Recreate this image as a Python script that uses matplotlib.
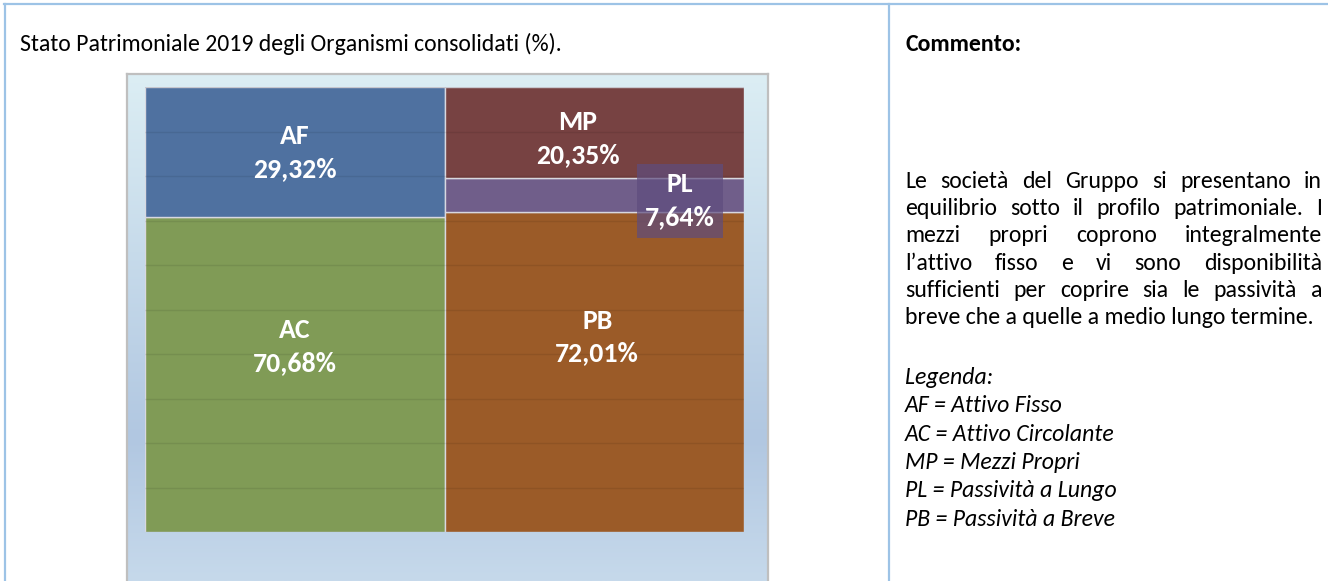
import numpy as np
import matplotlib
matplotlib.use('Agg')
import matplotlib.pyplot as plt
from matplotlib import font_manager
from matplotlib.colors import LinearSegmentedColormap
from matplotlib.lines import Line2D

# --- dati ---
colonne = [0, 1]
sigle_attivo = ['AC', 'AF']
valori_attivo = [70.68, 29.32]
sigle_passivo = ['PB', 'PL', 'MP']
valori_passivo = [72.01, 7.64, 20.35]

titolo = 'Stato Patrimoniale 2019 degli Organismi consolidati (%).'
intestazione = 'Commento:'
commento = [
    'Le società del Gruppo si presentano in',
    'equilibrio sotto il profilo patrimoniale. I',
    'mezzi propri coprono integralmente',
    'l’attivo fisso e vi sono disponibilità',
    'sufficienti per coprire sia le passività a',
    'breve che a quelle a medio lungo termine.',
]
legenda = [
    'Legenda:',
    'AF = Attivo Fisso',
    'AC = Attivo Circolante',
    'MP = Mezzi Propri',
    'PL = Passività a Lungo',
    'PB = Passività a Breve',
]

# --- stile ---
colori = {'AC': '#809B56', 'AF': '#4F71A0', 'PB': '#9B5B28',
          'PL': '#705E8A', 'MP': '#774242'}
# spostamento etichette (dx in larghezze barra, dy in punti %)
spost = {'AF': (0, 0), 'AC': (0, 6.3), 'MP': (-0.055, -1.4),
         'PL': (0.286, -1.4), 'PB': (0.01, 7.8)}

disponibili = {f.name for f in font_manager.fontManager.ttflist}
font = next(f for f in ['Carlito', 'Lato', 'Open Sans', 'DejaVu Sans'] if f in disponibili)

W, H = 1328, 581
fig = plt.figure(figsize=(W / 100, H / 100), dpi=100)
fig.patch.set_facecolor('white')


def fpos(x, y):
    return x / W, 1 - y / H


# bordi della tabella
bordo = '#9DC3E6'
for xs, ys in [([4, W], [4, 4]), ([5, 5], [4, H]), ([889, 889], [4, H])]:
    fig.add_artist(Line2D([x / W for x in xs], [1 - y / H for y in ys],
                          transform=fig.transFigure, color=bordo, lw=1.6))

# sfondo del grafico con sfumatura
bg = fig.add_axes([127 / W, 0, 641 / W, (H - 74) / H])
cmap = LinearSegmentedColormap.from_list(
    'sf', [(0, '#DCEEF4'), (0.72, '#B1C7E1'), (1, '#C6D9EB')])
bg.imshow(np.linspace(0, 1, 256).reshape(-1, 1), aspect='auto', cmap=cmap,
          extent=[0, 1, 0, 1], origin='upper')
bg.set_xticks([])
bg.set_yticks([])
for lato in ['left', 'top', 'right']:
    bg.spines[lato].set_color('#BFBFBF')
    bg.spines[lato].set_linewidth(1.6)
bg.spines['bottom'].set_visible(False)

# grafico a colonne impilate
ax = fig.add_axes([145 / W, (H - 532) / H, 599 / W, 445 / H])
ax.set_facecolor('none')

fs_lab = 20 if font == 'Carlito' else 18.5
for c, sigle, valori in [(colonne[0], sigle_attivo, valori_attivo),
                         (colonne[1], sigle_passivo, valori_passivo)]:
    base = 0
    for s, v in zip(sigle, valori):
        ax.bar(c, v, bottom=base, width=1.0, color=colori[s],
               edgecolor='#D8D8E0', linewidth=1.0)
        dx, dy = spost[s]
        xc, yc = c + dx, base + v / 2 + dy
        txt = f'{s}\n{v:.2f}%'.replace('.', ',')
        kw = {}
        if s == 'PL':
            kw['bbox'] = dict(boxstyle='square,pad=0.3', fc='#5E4C7E',
                              ec='none', alpha=0.7)
        ax.text(xc, yc, txt, ha='center', va='center', color='white',
                fontsize=fs_lab, fontweight='bold', family=font,
                linespacing=1.45, zorder=5, **kw)
        base += v

ax.set_xlim(-0.5, 1.5)
ax.set_ylim(0, 100)
ax.set_yticks(np.arange(0, 101, 10))
ax.set_axisbelow(False)
ax.yaxis.grid(True, color='black', alpha=0.08, lw=1.0)
ax.tick_params(length=0, labelleft=False, labelbottom=False)
for sp in ax.spines.values():
    sp.set_visible(False)

# testi
r = fig.canvas.get_renderer()
prova = fig.text(0, 0, titolo, fontsize=15, family=font)
fs = 15 * 543 / prova.get_window_extent(r).width
prova.remove()

fig.text(*fpos(20, 51), titolo, fontsize=fs, family=font, va='baseline')
fig.text(*fpos(905, 51), intestazione, fontsize=fs, family=font,
         fontweight='bold', va='baseline')


def riga_giustificata(riga, x0, x1, y):
    parole = riga.split()
    testi = [fig.text(0, 0, p, fontsize=fs, family=font, va='baseline')
             for p in parole]
    larg = [t.get_window_extent(r).width for t in testi]
    spazio = (x1 - x0 - sum(larg)) / (len(parole) - 1)
    x = x0
    for t, w in zip(testi, larg):
        t.set_position(fpos(x, y))
        x += w + spazio


for i, riga in enumerate(commento):
    y = 188 + i * 27.2
    if i < len(commento) - 1:
        riga_giustificata(riga, 905, 1322, y)
    else:
        fig.text(*fpos(905, y), riga, fontsize=fs, family=font, va='baseline')

for i, riga in enumerate(legenda):
    fig.text(*fpos(905, 384 + i * 28.3), riga, fontsize=fs, family=font,
             style='italic', va='baseline')

fig.savefig('out.png', dpi=100)
